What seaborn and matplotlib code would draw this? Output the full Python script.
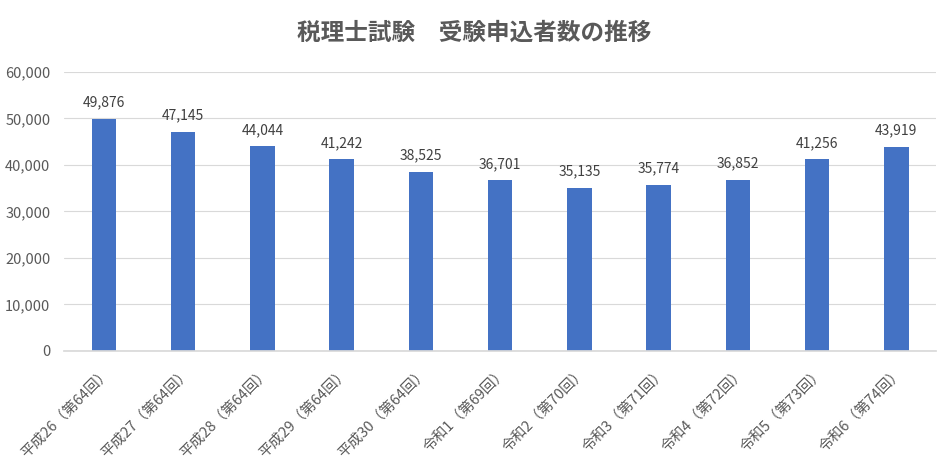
import matplotlib
matplotlib.use("Agg")
import matplotlib.pyplot as plt
import seaborn as sns
import pandas as pd

categories = ["平成26（第64回）", "平成27（第64回）", "平成28（第64回）", "平成29（第64回）",
              "平成30（第64回）", "令和1（第69回）", "令和2（第70回）", "令和3（第71回）",
              "令和4（第72回）", "令和5（第73回）", "令和6（第74回）"]
values = [49876, 47145, 44044, 41242, 38525, 36701, 35135, 35774, 36852, 41256, 43919]
yticks = [0, 10000, 20000, 30000, 40000, 50000, 60000]
title = "税理士試験　受験申込者数の推移"

sns.set_theme(style="white")
plt.rcParams['font.family'] = ['Noto Sans CJK JP', 'DejaVu Sans']

df = pd.DataFrame({"cat": categories, "val": values})

fig = plt.figure(figsize=(9.48, 4.66), dpi=100)
ax = fig.add_axes([0.0679, 0.2468, 0.9193, 0.5987])
sns.barplot(data=df, x="cat", y="val", color="#4472C4", saturation=1, width=0.31,
            linewidth=0, ax=ax)

ax.set_ylim(0, 60000)
ax.set_xlim(-0.5, len(categories) - 0.5)
ax.set_yticks(yticks)
ax.set_yticklabels([f"{v:,}" for v in yticks], color="#595959", fontsize=10.5)
ax.yaxis.grid(True, color="#D9D9D9", linewidth=0.8)
ax.set_axisbelow(True)
for s in ["top", "right", "left"]:
    ax.spines[s].set_visible(False)
ax.spines["bottom"].set_color("#D9D9D9")
ax.tick_params(axis="y", length=0, pad=10)
ax.tick_params(axis="x", length=0, pad=10)
ax.set_xlabel("")
ax.set_ylabel("")
ax.set_xticks(range(len(categories)))
ax.set_xticklabels(categories, rotation=45, ha="right", rotation_mode="anchor",
                   color="#595959", fontsize=10.5)

for i, v in enumerate(values):
    ax.text(i, v + 2000, f"{v:,}", ha="center", va="bottom", color="#404040", fontsize=10)

fig.suptitle(title, x=0.5, y=0.955, fontsize=17, fontweight="bold", color="#595959")

fig.savefig("out.png", dpi=100, facecolor="white")
